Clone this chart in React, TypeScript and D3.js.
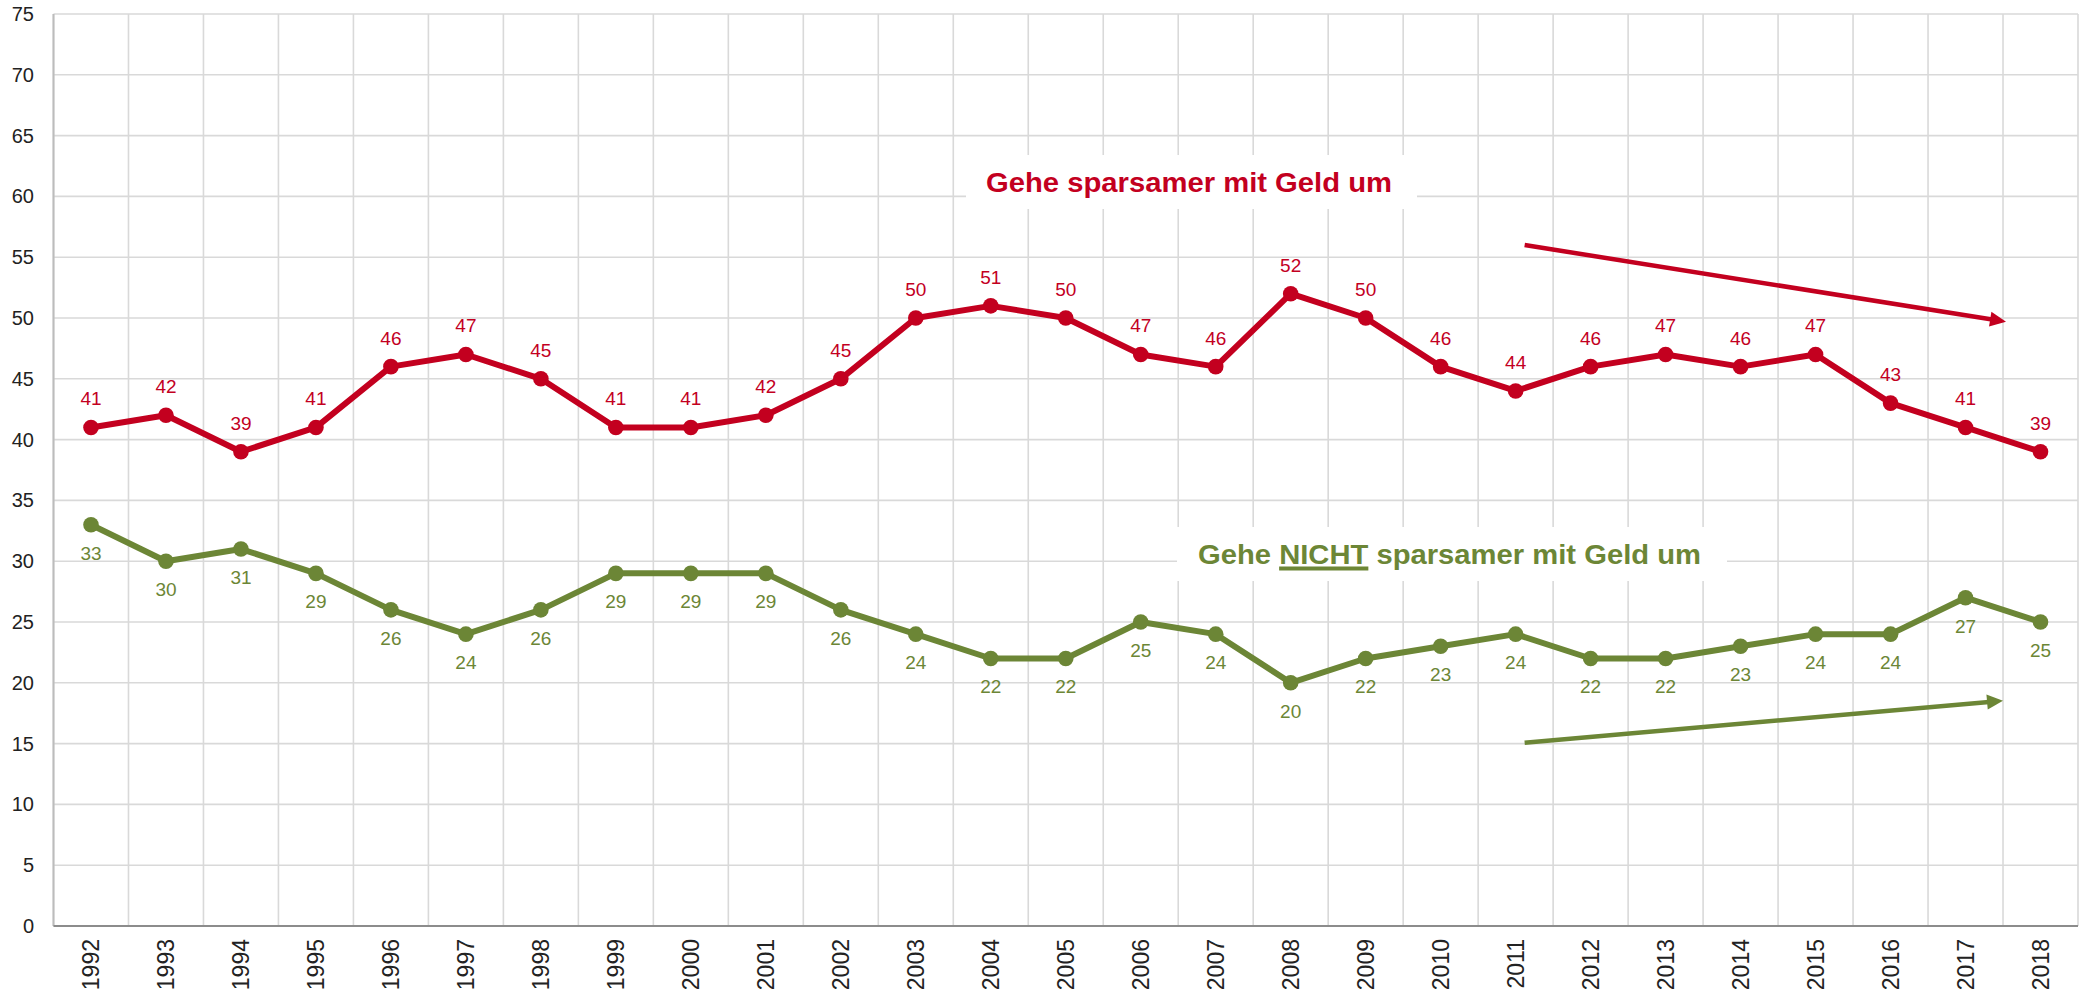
import React, { useLayoutEffect, useRef, useState } from "react";
import * as d3 from "d3";

const years = [1992, 1993, 1994, 1995, 1996, 1997, 1998, 1999, 2000, 2001, 2002, 2003, 2004, 2005, 2006, 2007, 2008, 2009, 2010, 2011, 2012, 2013, 2014, 2015, 2016, 2017, 2018];
const sparsamer = [41, 42, 39, 41, 46, 47, 45, 41, 41, 42, 45, 50, 51, 50, 47, 46, 52, 50, 46, 44, 46, 47, 46, 47, 43, 41, 39];
const nichtSparsamer = [33, 30, 31, 29, 26, 24, 26, 29, 29, 29, 26, 24, 22, 22, 25, 24, 20, 22, 23, 24, 22, 22, 23, 24, 24, 27, 25];
const yTicks = [0, 5, 10, 15, 20, 25, 30, 35, 40, 45, 50, 55, 60, 65, 70, 75];
// trend arrows: [year position, value]
const redArrow = [[2011.12, 56.0], [2017.54, 49.7]];
const greenArrow = [[2011.12, 15.07], [2017.5, 18.53]];
const labelRed = "Gehe sparsamer mit Geld um";
const labelGreenParts = ["Gehe ", "NICHT", " sparsamer mit Geld um"];

const RED = "#C3001F";
const GREEN = "#6C8636";
const FONT = "'Liberation Sans', Arial, sans-serif";

const W = 2084, H = 995;
const L = 53.5, R = 2078, T = 14, B = 926;

function Arrow({ pts, color, x, y }: any) {
  const x1 = x(pts[0][0]), y1 = y(pts[0][1]);
  const x2 = x(pts[1][0]), y2 = y(pts[1][1]);
  const dx = x2 - x1, dy = y2 - y1;
  const len = Math.hypot(dx, dy);
  const ux = dx / len, uy = dy / len;
  const hl = 16, hw = 7.5;
  const bx = x2 - ux * hl, by = y2 - uy * hl;
  const pts2 = [
    [x2, y2],
    [bx - uy * hw, by + ux * hw],
    [bx + uy * hw, by - ux * hw],
  ];
  return (
    <g>
      <line x1={x1} y1={y1} x2={bx + ux * 2} y2={by + uy * 2} stroke={color} strokeWidth={4.5} />
      <polygon points={pts2.map((p) => p.join(",")).join(" ")} fill={color} />
    </g>
  );
}

export default function App() {
  const xBand = d3.scaleBand<number>().domain(years).range([L, R]).padding(0);
  const bw = xBand.bandwidth();
  const cx = (yr: number) => (xBand(yr) as number) + bw / 2;
  const xPos = d3.scaleLinear().domain([1992, 2019]).range([L + bw / 2, R + bw / 2]);
  const y = d3.scaleLinear().domain([0, 75]).range([B, T]);

  const line = d3.line<number>().x((_, i) => cx(years[i])).y((d) => y(d));

  const textRef = useRef<SVGTextElement>(null);
  const [ul, setUl] = useState<[number, number] | null>(null);
  useLayoutEffect(() => {
    const t = textRef.current;
    if (!t) return;
    try {
      const s = labelGreenParts[0].length;
      const e = s + labelGreenParts[1].length - 1;
      const a = t.getStartPositionOfChar(s).x;
      const b = t.getEndPositionOfChar(e).x;
      setUl([a, b]);
    } catch (err) {}
  }, []);

  return (
    <svg width={W} height={H} style={{ position: "absolute", left: 0, top: 0, background: "#fff" }} fontFamily={FONT}>
      <rect x={0} y={0} width={W} height={H} fill="#fff" />
      {/* horizontal grid */}
      {yTicks.map((t) => (
        <line key={"h" + t} x1={L} x2={R} y1={y(t)} y2={y(t)} stroke="#d9d9d9" strokeWidth={1.6} />
      ))}
      {/* vertical grid at band boundaries */}
      {years.map((yr) => (
        <line key={"v" + yr} x1={xBand(yr)} x2={xBand(yr)} y1={T} y2={B} stroke="#d9d9d9" strokeWidth={1.6} />
      ))}
      <line x1={R} x2={R} y1={T} y2={B} stroke="#d9d9d9" strokeWidth={1.6} />
      {/* axes */}
      <line x1={L} x2={L} y1={T} y2={B} stroke="#bcbcbc" strokeWidth={2} />
      <line x1={L} x2={R} y1={B} y2={B} stroke="#8c8c8c" strokeWidth={2} />
      {/* y tick labels */}
      {yTicks.map((t) => (
        <text key={"yt" + t} x={34} y={y(t) + 7} textAnchor="end" fontSize={20} fill="#222">
          {t}
        </text>
      ))}
      {/* x labels */}
      {years.map((yr) => (
        <text
          key={"xl" + yr}
          transform={`translate(${cx(yr) + 8.5},939) rotate(-90)`}
          textAnchor="end"
          fontSize={23}
          fill="#222"
        >
          {yr}
        </text>
      ))}

      {/* title boxes */}
      <rect x={966} y={155} width={451} height={54} fill="#fff" />
      <text x={986} y={192} fontSize={27} fontWeight="bold" fill={RED} textLength={406} lengthAdjust="spacingAndGlyphs">
        {labelRed}
      </text>
      <rect x={1177} y={527} width={550} height={54} fill="#fff" />
      <text ref={textRef} x={1198} y={564} fontSize={27} fontWeight="bold" fill={GREEN} textLength={503} lengthAdjust="spacingAndGlyphs">
        {labelGreenParts.join("")}
      </text>
      {ul && <rect x={ul[0]} y={566.5} width={ul[1] - ul[0]} height={4} fill={GREEN} />}

      {/* arrows */}
      <Arrow pts={redArrow} color={RED} x={xPos} y={y} />
      <Arrow pts={greenArrow} color={GREEN} x={xPos} y={y} />

      {/* lines */}
      <path d={line(sparsamer) as string} fill="none" stroke={RED} strokeWidth={6} strokeLinejoin="round" />
      <path d={line(nichtSparsamer) as string} fill="none" stroke={GREEN} strokeWidth={6} strokeLinejoin="round" />
      {sparsamer.map((v, i) => (
        <circle key={"rm" + i} cx={cx(years[i])} cy={y(v)} r={7.8} fill={RED} />
      ))}
      {nichtSparsamer.map((v, i) => (
        <circle key={"gm" + i} cx={cx(years[i])} cy={y(v)} r={7.8} fill={GREEN} />
      ))}
      {sparsamer.map((v, i) => (
        <text key={"rl" + i} x={cx(years[i])} y={y(v) - 22} textAnchor="middle" fontSize={19} fill={RED}>
          {v}
        </text>
      ))}
      {nichtSparsamer.map((v, i) => (
        <text key={"gl" + i} x={cx(years[i])} y={y(v) + 35} textAnchor="middle" fontSize={19} fill={GREEN}>
          {v}
        </text>
      ))}
    </svg>
  );
}
